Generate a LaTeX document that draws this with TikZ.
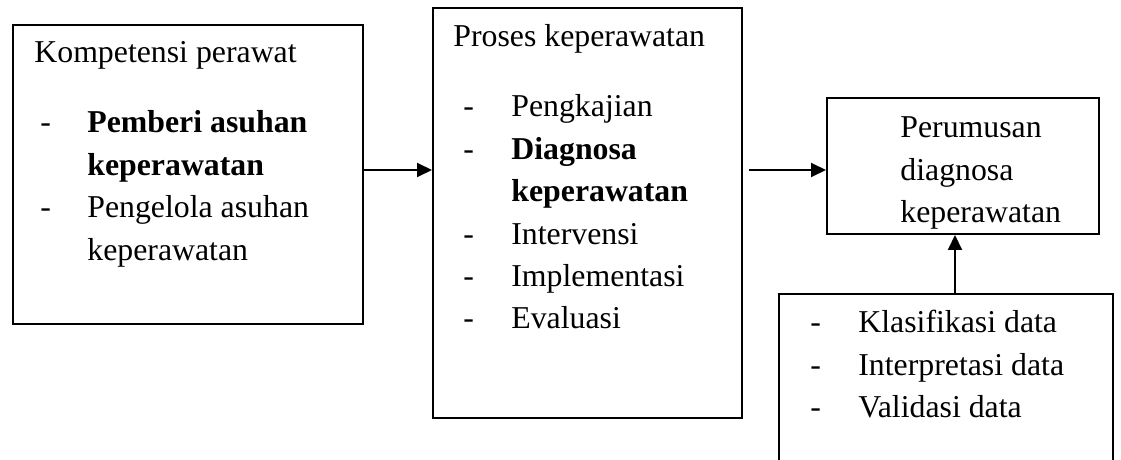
\documentclass[tikz,border=0pt]{standalone}
\usepackage{fontspec}
\setmainfont{Liberation Serif}
\usetikzlibrary{arrows.meta}

\tikzset{
  box/.style={draw=black, line width=1pt, inner sep=0pt},
  txt/.style={anchor=base west, inner sep=0pt, align=left, font=\fontsize{15.9}{21.2}\selectfont},
  arr/.style={line width=1pt, -{Triangle[length=7.5pt,width=7pt]}},
}

\begin{document}
\begin{tikzpicture}[x=0.5pt,y=-0.5pt]
   \useasboundingbox (0,0) rectangle (1121,460);
   % kotak
   \node[box, minimum width=175pt, minimum height=149.5pt] (kompetensi) at (188,174.5) {};
   \node[box, minimum width=154.5pt, minimum height=205pt] (proses) at (587.5,213) {};
   \node[box, minimum width=136pt, minimum height=68pt] (perumusan) at (963,166) {};
   \node[box, minimum width=167pt, minimum height=93pt] (data) at (946,387) {};
   % isi
   \node[txt] (kompetensi-judul) at (34,63) {Kompetensi perawat};
   \node[txt] (kompetensi-isi) at (40,133) {\begin{tabular}[t]{@{}p{23.5pt}@{}l@{}}
      - & \textbf{Pemberi asuhan}\\
        & \textbf{keperawatan}\\
      - & Pengelola asuhan\\
        & keperawatan
   \end{tabular}};
   \node[txt] (proses-judul) at (453,47) {Proses keperawatan};
   \node[txt] (proses-isi) at (463,117) {\begin{tabular}[t]{@{}p{24pt}@{}l@{}}
      - & Pengkajian\\
      - & \textbf{Diagnosa}\\
        & \textbf{keperawatan}\\
      - & Intervensi\\
      - & Implementasi\\
      - & Evaluasi
   \end{tabular}};
   \node[txt] (perumusan-isi) at (900,138) {\begin{tabular}[t]{@{}l@{}}
      Perumusan\\
      diagnosa\\
      keperawatan
   \end{tabular}};
   \node[txt] (data-isi) at (810,333) {\begin{tabular}[t]{@{}p{24pt}@{}l@{}}
      - & Klasifikasi data\\
      - & Interpretasi data\\
      - & Validasi data
   \end{tabular}};
   % panah
   \draw[arr] ([yshift=2.25pt]kompetensi.east) -- ([yshift=2.25pt]kompetensi.east -| proses.west);
   \draw[arr] ([xshift=3pt,yshift=-2pt]proses.east |- perumusan.west) -- ([yshift=-2pt]perumusan.west);
   \draw[arr] ([xshift=4.5pt]data.north) -- ([xshift=4.5pt]data.north |- perumusan.south);
\end{tikzpicture}
\end{document}
